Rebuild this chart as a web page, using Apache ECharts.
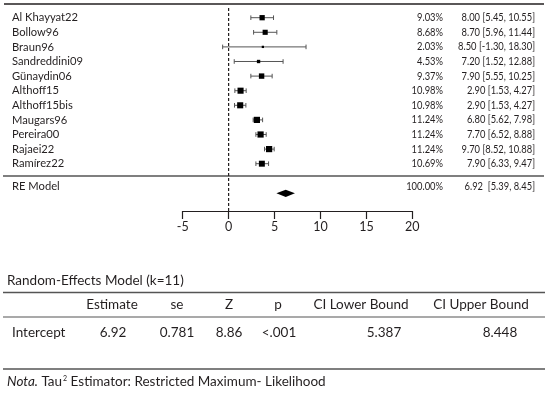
<!DOCTYPE html>
<html><head><meta charset="utf-8">
<script src="https://cdn.jsdelivr.net/npm/echarts@6/dist/echarts.min.js"></script>
<style>html,body{margin:0;padding:0;background:#fff}#c{width:550px;height:393px}</style>
</head><body><div id="c"></div>
<script>
// ---- data ----
const studies = ['Al Khayyat22','Bollow96','Braun96','Sandreddini09','Günaydin06','Althoff15','Althoff15bis','Maugars96','Pereira00','Rajaei22','Ramírez22'];
const estimates = [3.65, 3.98, 3.73, 3.26, 3.59, 1.30, 1.26, 3.08, 3.48, 4.41, 3.62];
const lowerCI   = [2.42, 2.72, -0.65, 0.61, 2.42, 0.68, 0.64, 2.67, 2.97, 3.91, 2.97];
const upperCI   = [4.89, 5.25, 8.43, 5.93, 4.74, 1.91, 1.88, 3.70, 4.09, 4.96, 4.35];
const weights   = [9.03, 8.68, 2.03, 4.53, 9.37, 10.98, 10.98, 11.24, 11.24, 11.24, 10.69];
const weightLabels = ['9.03%','8.68%','2.03%','4.53%','9.37%','10.98%','10.98%','11.24%','11.24%','11.24%','10.69%'];
const ciLabels = ['8.00 [5.45, 10.55]','8.70 [5.96, 11.44]','8.50 [-1.30, 18.30]','7.20 [1.52, 12.88]','7.90 [5.55, 10.25]','2.90 [1.53, 4.27]','2.90 [1.53, 4.27]','6.80 [5.62, 7.98]','7.70 [6.52, 8.88]','9.70 [8.52, 10.88]','7.90 [6.33, 9.47]'];
const reLabel = 'RE Model';
const reEstimate = 6.22;
const reLower = 5.20;
const reUpper = 7.22;
const reWeightLabel = '100.00%';
const reCiLabel = '6.92  [5.39, 8.45]';
const xTicks = [-5, 0, 5, 10, 15, 20];

const tableTitle = 'Random-Effects Model (k=11)';
const tableHeaders = ['Estimate','se','Z','p','CI Lower Bound','CI Upper Bound'];
const tableRowLabel = 'Intercept';
const tableValues = ['6.92','0.781','8.86','<.001','5.387','8.448'];
const noteItalic = 'Nota.';
const noteText1 = ' Tau';
const noteSup = '2';
const noteText2 = ' Estimator: Restricted Maximum- Likelihood';

// ---- layout ----
const FONT = 'Lato';
const TXT = '#231f20';
const rowY0 = 1;
const reRowText = 12.58;
const reRowMark = 13.03;
const sepRow = 11.84;
const NUM_SIZE = 11;
const NUM_SCALE = 0.85;

const chart = echarts.init(document.getElementById('c'), null, {renderer:'canvas'});

function textEl(x, y, text, align, size, extra) {
  return Object.assign({type:'text', x:x, y:y, style:{text:text, fill:TXT, font: size + 'px ' + FONT, textAlign:align, textVerticalAlign:'middle'}}, extra||{});
}
function numEl(x, y, text) {
  return textEl(x, y, text, 'right', NUM_SIZE, {scaleX: NUM_SCALE});
}

const studyData = studies.map((s, i) => [estimates[i], lowerCI[i], upperCI[i], rowY0 + i, weights[i]]);
const wMin = Math.min(...weights), wMax = Math.max(...weights);

const option = {
  animation: false,
  backgroundColor: '#fff',
  grid: {left: 182.7, right: 137.7, top: 8, bottom: 182},
  xAxis: {
    type: 'value', min: xTicks[0], max: xTicks[xTicks.length-1], interval: 5,
    position: 'bottom',
    axisLine: {show: true, onZero: false, lineStyle: {color: '#231f20', width: 1.2}},
    axisTick: {show: true, length: 8, lineStyle: {color: '#231f20', width: 1.2}},
    axisLabel: {color: TXT, fontFamily: FONT, fontSize: 12.5, margin: 9},
    splitLine: {show: false}
  },
  yAxis: {type: 'value', min: 0.336, max: 14.24, inverse: true, show: false},
  series: [
    {
      type: 'line', data: [[0, 0.336], [0, 14.24]], symbol: 'none', silent: true,
      lineStyle: {color: '#231f20', width: 1.2, type: [3, 2]}, z: 1
    },
    {
      type: 'custom', data: studyData, encode: {x: [0,1,2], y: 3}, z: 3,
      renderItem: function (params, api) {
        const est = api.value(0), lo = api.value(1), hi = api.value(2), row = api.value(3), w = api.value(4);
        const pE = api.coord([est, row]);
        const pL = api.coord([lo, row]);
        const pH = api.coord([hi, row]);
        const sz = 2.3 + (w - wMin) / (wMax - wMin) * 3.9;
        const idx = params.dataIndex;
        const capH = 2.3;
        const lineStyle = {stroke: '#555', lineWidth: 1};
        return {type: 'group', children: [
          {type: 'line', shape: {x1: pL[0], y1: pE[1], x2: pH[0], y2: pE[1]}, style: lineStyle},
          {type: 'line', shape: {x1: pL[0], y1: pE[1]-capH, x2: pL[0], y2: pE[1]+capH}, style: lineStyle},
          {type: 'line', shape: {x1: pH[0], y1: pE[1]-capH, x2: pH[0], y2: pE[1]+capH}, style: lineStyle},
          {type: 'rect', shape: {x: pE[0]-sz/2, y: pE[1]-sz/2, width: sz, height: sz}, style: {fill: '#000'}},
          textEl(12, pE[1], studies[idx], 'left', 11.2),
          numEl(443, pE[1], weightLabels[idx]),
          numEl(535, pE[1], ciLabels[idx])
        ]};
      }
    },
    {
      type: 'custom', data: [[reEstimate, reLower, reUpper, reRowMark, reRowText]], encode: {x: [0,1,2], y: 3}, z: 3,
      renderItem: function (params, api) {
        const est = api.value(0), lo = api.value(1), hi = api.value(2), row = api.value(3), trow = api.value(4);
        const c = api.coord([est, row]);
        const l = api.coord([lo, row]);
        const h = api.coord([hi, row]);
        const ty = api.coord([est, trow])[1];
        const hh = 3.6;
        return {type: 'group', children: [
          {type: 'polygon', shape: {points: [[l[0], c[1]], [c[0], c[1]-hh], [h[0], c[1]], [c[0], c[1]+hh]]}, style: {fill: '#000'}},
          textEl(12, ty, reLabel, 'left', 11.2),
          numEl(443, ty, reWeightLabel),
          numEl(535, ty, reCiLabel)
        ]};
      }
    }
  ],
  graphic: []
};
chart.setOption(option);

const sepY = chart.convertToPixel({yAxisIndex: 0}, sepRow);
const g = [];
g.push({type: 'line', shape: {x1: 4, y1: 4, x2: 544, y2: 4}, style: {stroke: '#231f20', lineWidth: 1.4}});
g.push({type: 'line', shape: {x1: 3, y1: sepY, x2: 544, y2: sepY}, style: {stroke: '#555', lineWidth: 1.5}});
// table
g.push(textEl(7, 281, tableTitle, 'left', 13.5));
g.push({type: 'line', shape: {x1: 3, y1: 292.5, x2: 545, y2: 292.5}, style: {stroke: '#555', lineWidth: 1.5}});
const headerX = [112, 177, 229, 278, 361, 481];
tableHeaders.forEach((h, i) => g.push(textEl(headerX[i], 305, h, 'center', 13.5)));
g.push({type: 'line', shape: {x1: 3, y1: 317, x2: 545, y2: 317}, style: {stroke: '#555', lineWidth: 1.2}});
g.push(textEl(12, 333, tableRowLabel, 'left', 13.5));
const valueX = [113, 177, 229, 279, 384, 500];
tableValues.forEach((v, i) => g.push(textEl(valueX[i], 333, v, 'center', 13.5)));
g.push({type: 'line', shape: {x1: 3, y1: 369, x2: 545, y2: 369}, style: {stroke: '#555', lineWidth: 1.5}});
g.push({type: 'text', x: 7, y: 382, style: {
  text: '{i|' + noteItalic + '}{n|' + noteText1 + '}{s|' + noteSup + '}{n|' + noteText2 + '}',
  textVerticalAlign: 'middle', textAlign: 'left',
  rich: {
    i: {fontStyle: 'italic', fontFamily: FONT, fontSize: 13.5, fill: TXT, color: TXT},
    n: {fontFamily: FONT, fontSize: 13.5, fill: TXT, color: TXT},
    s: {fontFamily: FONT, fontSize: 7, fill: TXT, color: TXT, verticalAlign: 'top', padding: [0,0,6,1]}
  }
}});
chart.setOption({graphic: g});
</script>
</body></html>
